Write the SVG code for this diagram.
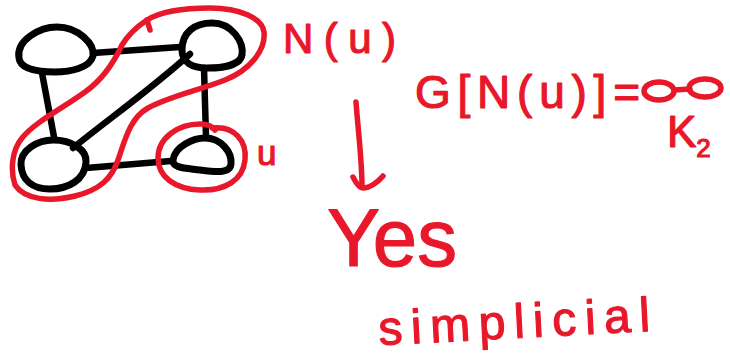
<svg xmlns="http://www.w3.org/2000/svg" width="730" height="355" viewBox="0 0 730 355">
  <style>
    .node { fill: none; stroke: #000; stroke-width: 7; stroke-linejoin: round; stroke-linecap: round; }
    .edge { fill: none; stroke: #000; stroke-width: 6.5; stroke-linecap: round; }
    .ink { fill: none; stroke: #E8182A; stroke-width: 5.5; stroke-linecap: round; stroke-linejoin: round; }
    .hand { font-family: "Liberation Sans", "DejaVu Sans", sans-serif; fill: #E8182A; stroke: #E8182A; stroke-width: 1.2; stroke-linejoin: round; }
  </style>

  <!-- graph edges -->
  <g id="edges">
    <path class="edge" d="M 93,53 L 180,47"/>
    <path class="edge" d="M 42,73 L 54,137"/>
    <path class="edge" d="M 204,68 L 206,137"/>
    <path class="edge" d="M 86,168 L 171,161"/>
    <path class="edge" d="M 73,148 C 110,118 150,90 190,54"/>
  </g>

  <!-- graph vertices -->
  <g id="node-top-left">
    <path class="node" d="M 19,58 C 16,40 40,27 57,27 C 78,27 95,44 93,56 C 90,68 70,72 55,72 C 35,72 20,68 19,58 Z"/>
  </g>
  <g id="node-top-right">
    <path class="node" d="M 182,50 C 182,32 195,23 212,23 C 232,23 244,42 242,55 C 240,66 220,68 207,68 C 192,68 182,62 182,50 Z"/>
  </g>
  <g id="node-bottom-left">
    <path class="node" d="M 21,165 C 20,150 38,140 53,140 C 72,140 87,150 86,162 C 85,180 68,189 50,189 C 32,189 22,180 21,165 Z"/>
  </g>
  <g id="node-u">
    <path class="node" d="M 173,160 C 175,146 194,138 205,138 C 221,138 232,152 231,164 C 230,174 215,172 200,170 C 185,168 172,168 173,160 Z"/>
  </g>

  <!-- neighbourhood outline N(u) -->
  <g id="neighbourhood">
    <path class="ink" d="M 147,20 C 160,12 180,8 210,8 C 240,8 262,18 264,32 C 266,50 250,70 225,80 C 200,90 170,96 148,108 C 130,118 125,140 118,160 C 112,178 100,190 75,196 C 50,202 25,200 15,185 C 10,170 12,150 22,138 C 35,122 60,110 85,92 C 105,78 115,60 122,45 C 128,35 138,26 147,20 Z"/>
    <path class="ink" d="M 147,20 L 150,30"/>
  </g>

  <!-- circle marking u -->
  <g id="u-circle">
    <path class="ink" d="M 212,128 C 235,125 247,142 245,160 C 243,180 225,191 200,190 C 175,189 158,177 158,158 C 158,138 178,124 200,124 C 208,124 212,126 215,130"/>
  </g>

  <!-- labels -->
  <g id="labels">
    <text class="hand" x="257" y="165" font-size="35">u</text>
    <text class="hand" x="283" y="53" font-size="42" textLength="113" lengthAdjust="spacing">N(u)</text>
    <text class="hand" x="415" y="108" font-size="46" textLength="225" lengthAdjust="spacing">G[N(u)]=</text>
    <text class="hand" x="667" y="147" font-size="44">K<tspan font-size="26" dy="10">2</tspan></text>
    <text class="hand" x="327" y="266" font-size="81" textLength="130" lengthAdjust="spacingAndGlyphs">Yes</text>
    <text class="hand" x="378" y="338" font-size="48" textLength="272" lengthAdjust="spacing" transform="rotate(-3 514 320)">simplicial</text>
  </g>

  <!-- K2 sketch: two vertices and an edge -->
  <g id="k2">
    <ellipse class="ink" cx="659" cy="91" rx="15" ry="9"/>
    <path class="ink" d="M 674,90 L 690,89"/>
    <ellipse class="ink" cx="705" cy="88" rx="16" ry="9"/>
  </g>

  <!-- arrow down to the answer -->
  <g id="arrow">
    <path class="ink" d="M 356,102 C 358,130 362,160 362,187"/>
    <path class="ink" d="M 353,177 C 356,183 359,188 363,188 C 370,188 378,182 383,176"/>
  </g>
</svg>
